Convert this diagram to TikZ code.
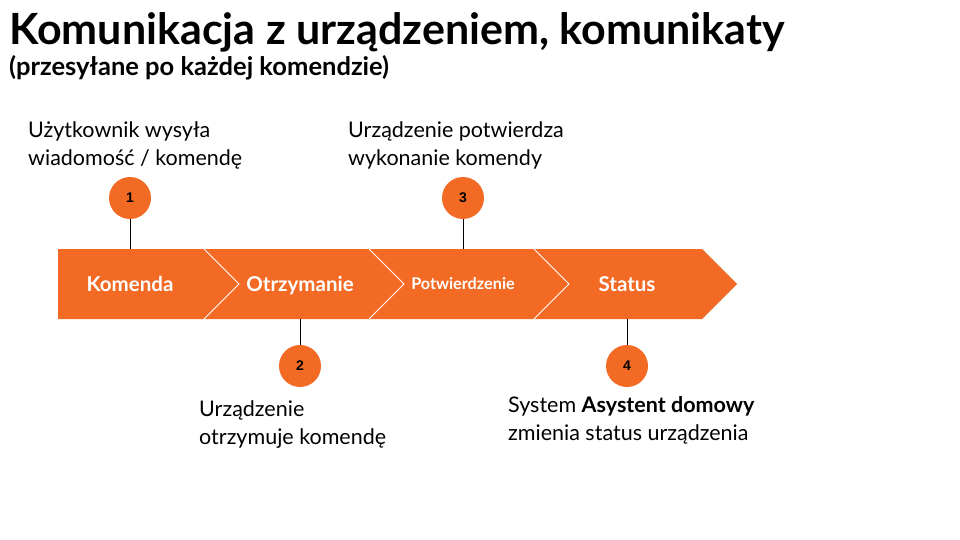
\documentclass[tikz,border=0pt]{standalone}
\usepackage{fontspec}
\setmainfont{Lato}
\newfontfamily\numfont{Liberation Sans}
\definecolor{orangeband}{HTML}{F36A25}
\begin{document}
\begin{tikzpicture}[x=1pt,y=-1pt,
  seglabel/.style={text=white,font=\bfseries\fontsize{20.5}{24}\selectfont,inner sep=0pt,minimum height=70pt,text height=15pt,text depth=0pt},
  stepcircle/.style={circle,fill=orangeband,minimum size=42pt,inner sep=0pt,font=\numfont\bfseries\fontsize{14}{16}\selectfont},
  stemline/.style={draw=black,line width=0.9pt},
  sepline/.style={draw=white,line width=0.9pt},
  desc/.style={anchor=base west,align=left,inner sep=0pt,font=\fontsize{21.5}{28}\selectfont}]
\useasboundingbox (0,0) rectangle (960,540);
% title
\node[anchor=base west,inner sep=0pt,font=\bfseries\fontsize{43}{46}\selectfont] (title) at (9,45) {Komunikacja z urządzeniem, komunikaty};
\node[anchor=base west,inner sep=0pt,font=\bfseries\fontsize{25.5}{28}\selectfont] (subtitle) at (9,76) {(przesyłane po każdej komendzie)};
% band
\fill[orangeband] (58,249) -- (702,249) -- (737,284) -- (702,319) -- (58,319) -- cycle;
\foreach \x in {204,369,534}{
  \draw[sepline] (\x,249) -- (\x+35,284) -- (\x,319);
}
\node[seglabel] (seg1) at (130,284) {Komenda};
\node[seglabel] (seg2) at (300,284) {Otrzymanie};
\node[seglabel,font=\bfseries\fontsize{16.2}{19}\selectfont,text height=11.5pt] (seg3) at (463,284) {Potwierdzenie};
\node[seglabel] (seg4) at (627,284) {Status};
% circles
\node[stepcircle] (c1) at (130,198) {1};
\node[stepcircle] (c3) at (463,198) {3};
\node[stepcircle] (c2) at (300,366) {2};
\node[stepcircle] (c4) at (627,366) {4};
\draw[stemline] (c1) -- (seg1.north);
\draw[stemline] (c3) -- (seg3.north);
\draw[stemline] (c2) -- (seg2.south);
\draw[stemline] (c4) -- (seg4.south);
% descriptions (anchor at baseline of last line)
\node[desc] (d1) at (28,165) {Użytkownik wysyła\\wiadomość / komendę};
\node[desc] (d3) at (348,165) {Urządzenie potwierdza\\wykonanie komendy};
\node[desc] (d2) at (199,444) {Urządzenie\\otrzymuje komendę};
\node[desc] (d4) at (508,440) {System \textbf{Asystent domowy}\\zmienia status urządzenia};
\end{tikzpicture}
\end{document}
